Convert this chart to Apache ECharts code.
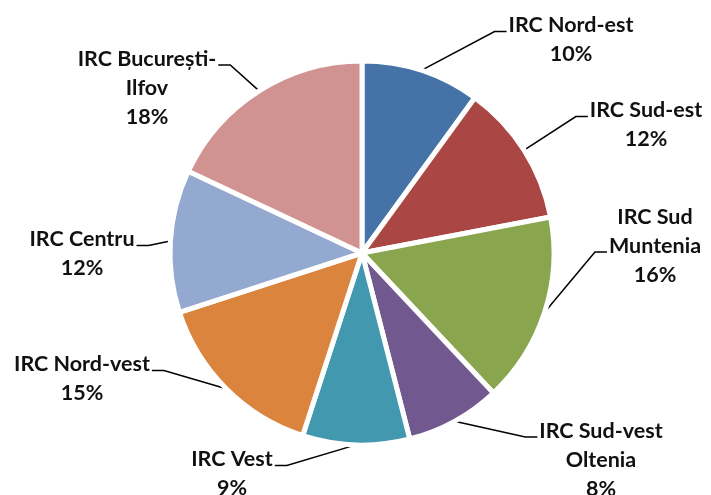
<!DOCTYPE html>
<html>
<head>
<meta charset="utf-8">
<script src="https://cdn.jsdelivr.net/npm/echarts@6/dist/echarts.min.js"></script>
<style>
  html, body { margin: 0; padding: 0; background: #fff; }
  #main { width: 711px; height: 495px; }
</style>
</head>
<body>
<div id="main"></div>
<script>
// date
var regiuni = ['IRC Nord-est', 'IRC Sud-est', 'IRC Sud\nMuntenia', 'IRC Sud-vest\nOltenia', 'IRC Vest', 'IRC Nord-vest', 'IRC Centru', 'IRC București-\nIlfov'];
var procente = [10, 12, 16, 8, 9, 15, 12, 18];
var culori = ['#4572A7', '#AA4643', '#89A54E', '#71588F', '#4198AF', '#DB843D', '#93A9CF', '#D19392'];

// unde stau etichetele (centru) si de unde se leaga linia (parte, rand)
var pozEtichete = [[571, 40], [646, 125], [655, 246], [601, 460], [232, 474], [82, 379], [82, 254], [147, 88]];
var legatura = [['l', 0], ['l', 0], ['l', 1], ['l', 0], ['r', 0], ['r', 0], ['r', 0], ['r', 0]];
var lineH = 29;

var myChart = echarts.init(document.getElementById('main'));

var date = regiuni.map(function (n, i) {
  return { name: n, value: procente[i], itemStyle: { color: culori[i] } };
});

myChart.setOption({
  animation: false,
  series: [{
    type: 'pie',
    center: [362, 253],
    radius: 192,
    startAngle: 90,
    clockwise: true,
    data: date,
    itemStyle: { borderColor: '#fff', borderWidth: 5 },
    label: {
      show: true,
      position: 'outside',
      formatter: '{b}\n{d}%',
      fontFamily: 'Lato',
      fontWeight: 'bold',
      fontSize: 21.5,
      lineHeight: lineH,
      color: '#111',
      align: 'center'
    },
    labelLine: {
      show: true,
      length: 10,
      length2: 10,
      lineStyle: { color: '#000', width: 1.5 }
    },
    labelLayout: function (params) {
      var i = params.dataIndex;
      var c = pozEtichete[i];
      var w = params.labelRect.width;
      var h = params.labelRect.height;
      var top = c[1] - h / 2;
      var leg = legatura[i];
      var ya = top + (leg[1] + 0.5) * lineH + 6;
      var xa, xb;
      if (leg[0] === 'l') { xa = c[0] - w / 2 - 2; xb = xa - 12; }
      else { xa = c[0] + w / 2 + 2; xb = xa + 12; }
      var res = { x: c[0], y: c[1], align: 'center', verticalAlign: 'middle' };
      if (params.labelLinePoints) {
        res.labelLinePoints = [params.labelLinePoints[0], [xb, ya], [xa, ya]];
      }
      return res;
    }
  }]
});
</script>
</body>
</html>
